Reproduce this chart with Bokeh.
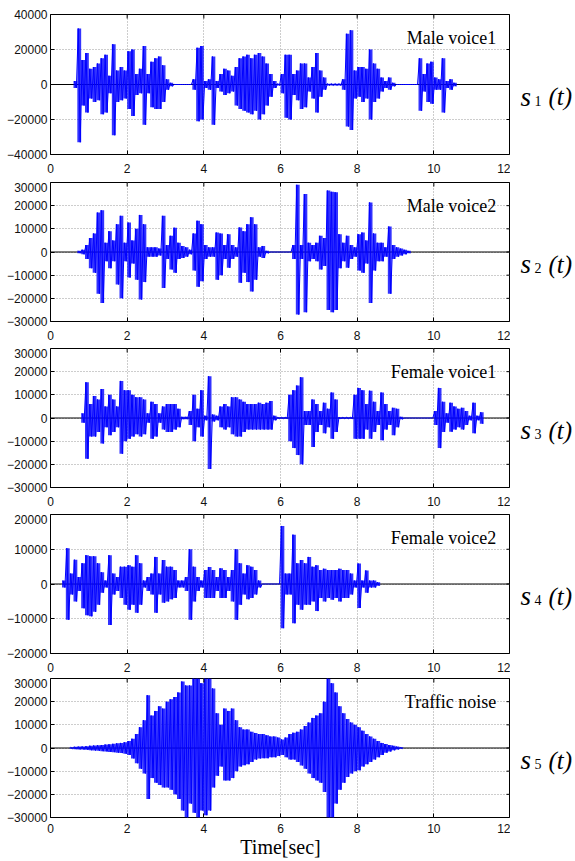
import numpy as np
from bokeh.plotting import figure
from bokeh.layouts import column, row
from bokeh.models import Label, Span, FixedTicker, Range1d, ColumnDataSource
from bokeh.embed import file_html
from bokeh.resources import INLINE

STEP = 0.1  # envelope bin width, seconds

titles = ["Male voice1", "Male voice2", "Female voice1", "Female voice2", "Traffic noise"]
subs = ["1", "2", "3", "4", "5"]
y_limits = [40000, 30000, 30000, 20000, 30000]
y_steps = [20000, 10000, 10000, 10000, 10000]
x_ticks = [0, 2, 4, 6, 8, 10, 12]

# envelope of each signal, in thousands, one value per 0.1 s bin from the start time
s1_start = 0.6
s1_hi = [2, 32, 14, 18, 9, 10, 12, 15, 17, 5, 23, 8, 10, 8, 19, 20, 6, 9, 22, 6, 13, 15, 16, 11, 3, 1,
         0, 0, 0, 0, 0, 3, 21, 22, 2, 3, 16, 2, 6, 9, 8, 5, 10, 15, 16, 17, 15, 17, 18, 16, 12, 6, 2, 0.5,
         6, 17, 17, 6, 8, 12, 12, 4, 10, 18, 8, 4, 0.5, 0.5, 0.5, 0.5, 3, 29, 31, 8, 10, 10, 9, 20, 12, 9,
         4, 2, 4, 1, 0, 0, 0, 0, 0, 0, 15, 6, 12, 13, 4, 3, 15, 2, 3, 1]
s1_lo = [-2, -33, -12, -16, -8, -10, -9, -17, -16, -5, -29, -10, -9, -8, -14, -18, -6, -5, -23, -5, -13, -14, -14, -10, -3, -1,
         0, 0, 0, 0, 0, -3, -21, -20, -2, -3, -23, -2, -4, -6, -5, -4, -12, -14, -15, -16, -17, -15, -20, -17, -12, -7, -2, -0.5,
         -5, -19, -20, -6, -9, -14, -13, -4, -8, -16, -7, -3, -0.5, -0.5, -0.5, -0.5, -3, -24, -26, -8, -7, -10, -8, -20, -10, -8,
         -4, -2, -3, -1, 0, 0, 0, 0, 0, 0, -15, -4, -10, -11, -3, -3, -16, -2, -3, -1]

s2_start = 0.7
s2_hi = [0.5, 1, 3, 6, 8, 17, 18, 4, 9, 5, 12, 15.6, 4, 12.7, 5, 10, 16, 12, 2, 2, 2, 1.5, 15.6, 3, 7, 10.5, 4,
         2.6, 2, 1, 8, 13.5, 12, 3, 2, 2, 8.4, 8, 3, 7.7, 3, 2, 10.6, 9, 12, 15, 12, 2, 2.6, 0.5,
         0, 0, 0, 0, 0, 0, 3, 29, 3, 25, 4, 3, 4, 7, 6, 26.5, 26, 25.8, 7.7, 4, 7, 3, 2, 7.7, 8.4, 5, 21.4, 8,
         4, 4, 2, 11, 3, 2, 1.5, 1, 0.5]
s2_lo = [-0.5, -1, -3, -7, -9, -18, -22, -4, -7, -4, -14, -20, -4, -11, -5, -12, -20.5, -13, -2, -2, -2, -1.5, -15.5, -3, -7.5, -9, -3,
         -2.6, -2, -1, -8, -15, -12.6, -3, -2, -2, -12, -10, -3, -6.8, -3, -2, -13.3, -9, -13, -17, -12, -2, -2.6, -0.5,
         0, 0, 0, 0, 0, 0, -3, -27, -3, -26, -4, -3, -4, -7.5, -6, -25, -26, -25, -7, -4, -6.8, -3, -2, -8, -9, -5, -22, -8,
         -4, -4, -2, -18, -3, -2, -1.5, -1, -0.5]

s3_start = 0.8
s3_hi = [2, 15.4, 6, 9.5, 8, 12.5, 5, 10, 8, 5, 16, 12, 12, 10, 9, 9, 8, 2, 7, 6, 2, 5, 6, 6, 6, 4, 0.5, 0.5,
         3, 10, 4, 12, 1, 18, 1.5, 1, 5, 6, 5, 9, 9, 8, 7, 6, 6, 6, 6.6, 6, 6.6, 7.3, 1, 0.3, 0.3, 0.3,
         10, 12, 14, 17.6, 3, 3, 8, 6, 3, 6.6, 4, 11, 8, 0.3, 0.3, 0.3, 0.3, 10, 13, 12, 6, 11.8, 7, 3, 11, 6,
         3, 4.4, 4, 0.5, 0, 0, 0, 0, 0, 0, 0, 0, 3, 13, 7, 2, 6.6, 5, 4, 4.4, 3, 1, 6.6, 1, 2.5]
s3_lo = [-2, -17.6, -8, -8, -6, -11, -4, -7.4, -6, -4, -15.4, -10, -9, -8, -7, -8, -7, -2, -9, -8, -2, -5, -6, -6, -5, -4, -0.5, -0.5,
         -3, -10, -4, -8, -1, -22, -1.5, -1, -4, -5, -4, -7, -8, -8, -6, -5, -5, -5, -5, -5, -5, -5, -1, -0.3, -0.3, -0.3,
         -10, -13, -16, -20, -3, -3, -12.5, -6, -3, -6.6, -4, -9, -6, -0.3, -0.3, -0.3, -0.3, -9, -9, -9, -5, -9, -6, -3, -9.6, -5,
         -3, -7.4, -4, -0.5, 0, 0, 0, 0, 0, 0, 0, 0, -3, -13, -6, -2, -5.9, -5, -4, -5, -3, -1, -6.6, -1, -2.5]

s4_start = 0.3
s4_hi = [1, 10.3, 3, 7, 2, 6, 8.3, 8, 8, 6, 3.4, 1, 8.3, 3, 2, 5, 5, 5.4, 5, 8.3, 6, 1, 2, 3, 7.8, 3, 6.9, 5, 5,
         4, 1, 1, 2, 10, 5, 2, 1, 4, 4.9, 4, 2, 4.5, 4, 2, 4, 10, 6, 3, 5.4, 5, 4, 1, 0, 0, 0, 0, 0,
         16.7, 3, 3, 14.2, 6, 6.9, 6, 7.8, 5, 5.4, 4, 4.4, 4, 4, 4, 4.4, 4, 4, 3, 1, 5.9, 1, 3.9, 1, 1, 0.5]
s4_lo = [-1, -10.3, -3, -5, -2, -7, -9, -9.3, -8, -6, -2.5, -1, -11.8, -3, -2, -4, -6, -7.4, -6, -8.3, -6, -1, -2, -3, -8.3, -3, -5.4, -5, -4.4,
         -4, -1, -1, -2, -10.3, -5, -2, -1, -4, -4, -4, -2, -4, -4, -2, -5, -10.3, -6, -3, -4.4, -4, -3, -1, 0, 0, 0, 0, 0,
         -12.7, -3, -3, -11.3, -6, -7.4, -6, -6, -5, -7.8, -4, -5, -4, -4.5, -4, -5, -4, -4, -3, -1, -6.9, -1, -2.5, -1, -1, -0.5]

s5_start = 0.5
s5_hi = [0.3, 0.5, 0.6, 0.7, 0.8, 1.0, 1.1, 1.2, 1.3, 1.5, 1.6, 1.8, 2.0, 2.2, 2.5, 3.0, 4, 6, 9, 12, 22.8, 14, 16,
         18, 17, 20, 21, 22, 24, 28.7, 27, 27, 30, 30, 28, 30, 30, 25.7, 15, 10, 17, 16, 17, 12, 9, 8, 8, 7, 6.5,
         6, 6, 5.5, 5, 5, 4.5, 3.7, 4.5, 6, 6.6, 7, 8, 9.5, 11, 13, 14, 15, 20, 30, 28, 24, 18, 15, 12.5, 11, 10,
         9, 7.5, 6, 5, 4, 3, 2.2, 1.7, 1.3, 1, 0.6, 0.3]
s5_lo = [-0.3, -0.5, -0.6, -0.7, -0.8, -1.0, -1.1, -1.2, -1.4, -1.5, -1.7, -1.8, -2.0, -2.2, -2.5, -3.0, -4.5, -6.6, -9, -11, -22, -13, -15,
         -16, -17, -17, -18, -20, -22, -27, -30, -24, -28, -30, -27, -29, -27, -17, -12, -8, -14, -14, -13, -10, -8, -7.4, -7, -6, -5,
         -4.5, -4.4, -4.4, -4, -4, -3.5, -3, -4, -5, -5, -6, -7.5, -9, -11, -13, -14, -15, -19, -30, -30, -24, -18, -15, -12.5, -11, -10,
         -9.6, -8, -7, -6, -5, -4, -3, -2, -1.5, -1, -0.6, -0.3]

signals = [(s1_start, s1_hi, s1_lo), (s2_start, s2_hi, s2_lo), (s3_start, s3_hi, s3_lo),
           (s4_start, s4_hi, s4_lo), (s5_start, s5_hi, s5_lo)]

BLUE = "#0000ff"
X_END = 12
FRAME_W = 460
TICK_PX = 4
frame_h = [140, 139, 139, 139, 139]
b_top = [14, 0, 0, 0, 0]
b_bot = [28, 27, 27, 25, 44]

rows = []
for k in range(5):
    start, hi, lo = signals[k]
    lim = y_limits[k]
    last = (k == 4)
    yr = Range1d(-lim, lim)
    p = figure(frame_width=FRAME_W, frame_height=frame_h[k],
               x_range=Range1d(0, X_END), y_range=yr,
               output_backend="svg", toolbar_location=None,
               min_border_left=50, min_border_right=0,
               min_border_top=b_top[k], min_border_bottom=b_bot[k])
    p.outline_line_color = "black"
    p.outline_line_alpha = 1
    p.background_fill_color = "white"
    p.border_fill_color = "white"

    n = len(hi)
    t = np.round(start + STEP * np.arange(n), 3)
    hi_v = np.array(hi) * 1000.0
    lo_v = np.array(lo) * 1000.0
    src = ColumnDataSource(dict(left=t, right=t + STEP, top=hi_v, bottom=lo_v))
    p.add_layout(Span(location=0, dimension="width", line_color="black", line_width=1, level="underlay"))
    p.quad(left="left", right="right", top="top", bottom="bottom", source=src,
           fill_color=BLUE, fill_alpha=0.8, line_color=None)
    zx = np.empty(2 * n)
    zy = np.empty(2 * n)
    zx[0::2] = t + STEP * 0.25
    zx[1::2] = t + STEP * 0.75
    zy[0::2] = hi_v
    zy[1::2] = lo_v
    p.line(zx, zy, line_color=BLUE, line_width=1)

    xax = p.xaxis[0]
    yax = p.yaxis[0]
    for ax in (xax, yax):
        ax.axis_line_color = None
        ax.major_tick_in = TICK_PX
        ax.major_tick_out = 0
        ax.minor_tick_line_color = None
        ax.major_label_text_font = "Liberation Sans"
        ax.major_label_text_font_size = "12px"
        ax.major_label_text_color = "#111111"
        ax.major_tick_line_color = "black"
    xax.ticker = FixedTicker(ticks=x_ticks)
    xax.major_label_standoff = 6 if last else 9
    yt = list(range(-lim, lim + 1, y_steps[k]))
    yax.ticker = FixedTicker(ticks=yt)
    yax.major_label_standoff = 3
    if last:
        xax.axis_label = "Time[sec]"
        xax.axis_label_text_font = "Liberation Serif"
        xax.axis_label_text_font_style = "normal"
        xax.axis_label_text_font_size = "20px"
        xax.axis_label_text_color = "black"
        xax.axis_label_standoff = 0

    # inward ticks on the right and top edges of the box (mirroring the axes)
    dx = TICK_PX * X_END / FRAME_W
    dy = TICK_PX * 2 * lim / frame_h[k]
    p.segment(x0=[X_END - dx] * len(yt), y0=yt, x1=[X_END] * len(yt), y1=yt,
              line_color="black", line_width=1)
    p.segment(x0=x_ticks, y0=[lim] * len(x_ticks), x1=x_ticks, y1=[lim - dy] * len(x_ticks),
              line_color="black", line_width=1)

    for g in (p.xgrid[0], p.ygrid[0]):
        g.grid_line_color = "#9a9a9a"
        g.grid_line_dash = "1 2"
        g.grid_line_width = 1

    # title inside the frame
    p.add_layout(Label(x=11.63, y=lim, y_offset=-23, text=titles[k], text_align="right",
                       text_baseline="middle", text_font="Liberation Serif",
                       text_font_size="18px", text_color="black"))

    # side panel carrying the s_k (t) label
    q = figure(frame_width=65, frame_height=frame_h[k],
               x_range=Range1d(0, 65), y_range=yr,
               output_backend="svg", toolbar_location=None,
               min_border_left=0, min_border_right=0,
               min_border_top=b_top[k], min_border_bottom=b_bot[k],
               x_axis_type=None, y_axis_type=None)
    q.outline_line_color = None
    q.xgrid.visible = False
    q.ygrid.visible = False
    q.background_fill_color = "white"
    q.border_fill_color = "white"
    q.add_layout(Label(x=10, y=0, y_offset=-12, text="s", text_font="Liberation Serif",
                       text_font_style="italic", text_font_size="27px", text_baseline="alphabetic",
                       text_color="black"))
    q.add_layout(Label(x=24, y=0, y_offset=-16, text=subs[k], text_font="Liberation Serif",
                       text_font_size="14px", text_baseline="alphabetic", text_color="black"))
    q.add_layout(Label(x=38, y=0, y_offset=-12, text="(t)", text_font="Liberation Serif",
                       text_font_style="italic", text_font_size="25px", text_baseline="alphabetic",
                       text_color="black"))
    rows.append(row(p, q, spacing=0))

layout = column(*rows, spacing=0)
open("out.html", "w").write(file_html(layout, INLINE))
